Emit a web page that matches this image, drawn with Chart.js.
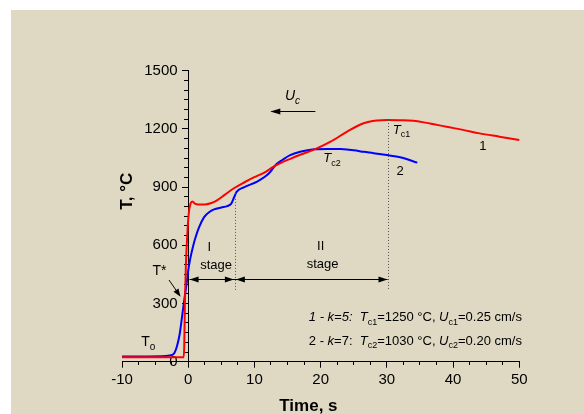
<!DOCTYPE html>
<html>
<head>
<meta charset="utf-8">
<script src="https://cdn.jsdelivr.net/npm/chart.js@4"></script>
<style>
  body { margin: 0; background: #fff; }
  canvas { display: block; }
</style>
</head>
<body>
<canvas id="chart" width="584" height="414"></canvas>
<script>
const FONT = '"Liberation Sans", Arial, sans-serif';

// curve 1 (k=5), red
const timeRed = [-10, -0.7, -0.6, -0.5, -0.35, -0.15, 0.1, 0.35, 0.65, 1.0, 1.5, 2.5, 3.5, 4.4, 5.5, 6.9, 8.5, 9.9, 11.5, 12.9, 14, 15.5, 17, 19, 21.5, 24, 26.5, 28.5, 30, 32, 34, 36.5, 39, 41.5, 44, 47, 50];
const tempRed = [23, 23, 80, 300, 500, 650, 770, 815, 826, 815, 810, 810, 818, 833, 860, 894, 925, 950, 975, 1005, 1025, 1047, 1068, 1093, 1134, 1186, 1229, 1243, 1246, 1245, 1242, 1228, 1211, 1195, 1177, 1160, 1143];

// curve 2 (k=7), blue
const timeBlue = [-10, -4, -2.8, -2.2, -1.7, -1.3, -0.9, -0.55, -0.25, 0, 0.3, 0.7, 1.1, 1.6, 2.4, 3.2, 3.9, 5, 5.9, 6.5, 6.9, 7.3, 8.4, 10.4, 12.2, 13.2, 14, 15.4, 16.9, 19, 21, 23, 25, 26.5, 28, 30, 32, 34.6];
const tempBlue = [27, 28, 32, 40, 80, 140, 240, 330, 400, 470, 530, 590, 640, 690, 745, 772, 785, 795, 802, 815, 845, 875, 899, 928, 971, 1014, 1035, 1065, 1082, 1095, 1097, 1096, 1090, 1082, 1075, 1065, 1054, 1026];

const stageEnds = [7.05, 30.1];   // dotted stage borders, s
const stageArrowT = 425;          // level of the stage arrows, °C

const legendLines = [
  [['1 - k=5:  ', 'i'], ['T', 'i'], ['c1', 's'], ['=1250 °C, ', 'n'], ['U', 'i'], ['c1', 's'], ['=0.25 cm/s', 'n']],
  [['2 - ', 'n'], ['k', 'i'], ['=7:  ', 'n'], ['T', 'i'], ['c2', 's'], ['=1030 °C, ', 'n'], ['U', 'i'], ['c2', 's'], ['=0.20 cm/s', 'n']]
];

function richText(ctx, parts, x, y, size, align) {
  const fontFor = st => (st === 'i' || st === 'si' ? 'italic ' : '') + (st[0] === 's' ? Math.round(size * 0.72) : size) + 'px ' + FONT;
  let w = 0;
  parts.forEach(([t, st]) => { ctx.font = fontFor(st); w += ctx.measureText(t).width; });
  let cx = align === 'right' ? x - w : align === 'center' ? x - w / 2 : x;
  ctx.textAlign = 'left';
  ctx.textBaseline = 'middle';
  parts.forEach(([t, st]) => {
    ctx.font = fontFor(st);
    ctx.fillText(t, cx, st[0] === 's' ? y + size * 0.38 : y);
    cx += ctx.measureText(t).width;
  });
}

function arrowHead(ctx, x, y, dir, len, half) {
  // dir: angle in radians the tip points to
  ctx.save();
  ctx.translate(x, y);
  ctx.rotate(dir);
  ctx.beginPath();
  ctx.moveTo(0, 0);
  ctx.lineTo(-len, -half);
  ctx.lineTo(-len, half);
  ctx.closePath();
  ctx.fill();
  ctx.restore();
}

const overlay = {
  id: 'overlay',
  beforeDraw(chart) {
    const ctx = chart.ctx;
    ctx.save();
    ctx.fillStyle = '#dfd9c4';
    ctx.fillRect(11, 10, chart.width - 11, chart.height - 10);
    ctx.restore();
  },
  afterDraw(chart) {
    const {ctx, chartArea} = chart;
    const sx = chart.scales.x, sy = chart.scales.y;
    const px = v => sx.getPixelForValue(v);
    const py = v => sy.getPixelForValue(v);
    ctx.save();
    ctx.fillStyle = '#000';
    ctx.strokeStyle = '#000';

    // dotted stage borders
    ctx.save();
    ctx.strokeStyle = '#555';
    ctx.lineWidth = 1;
    ctx.setLineDash([1, 2]);
    ctx.beginPath();
    ctx.moveTo(Math.round(px(stageEnds[0])) + 0.5, py(870));
    ctx.lineTo(Math.round(px(stageEnds[0])) + 0.5, py(370));
    ctx.moveTo(Math.round(px(stageEnds[1])) + 0.5, py(1246));
    ctx.lineTo(Math.round(px(stageEnds[1])) + 0.5, py(370));
    ctx.stroke();
    ctx.restore();

    // stage arrows
    const ay = Math.round(py(stageArrowT)) + 0.5;
    ctx.lineWidth = 1;
    ctx.beginPath();
    ctx.moveTo(px(0.2), ay);
    ctx.lineTo(px(stageEnds[1]), ay);
    ctx.stroke();
    arrowHead(ctx, px(0.2), ay, Math.PI, 9, 3);
    arrowHead(ctx, px(stageEnds[0]) - 1, ay, 0, 9, 3);
    arrowHead(ctx, px(stageEnds[0]) + 1, ay, Math.PI, 9, 3);
    arrowHead(ctx, px(stageEnds[1]), ay, 0, 9, 3);

    // Uc arrow
    const uy = Math.round(py(1294)) + 0.5;
    ctx.beginPath();
    ctx.moveTo(px(19.2), uy);
    ctx.lineTo(px(12.6), uy);
    ctx.stroke();
    arrowHead(ctx, px(12.4), uy, Math.PI, 10, 3);

    // T* arrow
    const x1 = px(-2.9), y1 = py(421), x2 = px(-1.16), y2 = py(335);
    ctx.beginPath();
    ctx.moveTo(x1, y1);
    ctx.lineTo(x2 - 2, y2 - 3);
    ctx.stroke();
    arrowHead(ctx, x2, y2, Math.atan2(y2 - y1, x2 - x1), 8, 3);

    // labels
    richText(ctx, [['I', 'n']], px(3.2), py(591), 13, 'center');
    richText(ctx, [['stage', 'n']], px(4.2), py(498), 13, 'center');
    richText(ctx, [['II', 'n']], px(20), py(593), 13, 'center');
    richText(ctx, [['stage', 'n']], px(20.3), py(502), 13, 'center');
    richText(ctx, [['T*', 'n']], px(-4.33), py(468), 14, 'center');
    richText(ctx, [['T', 'n'], ['o', 's']], px(-7.1), py(102), 14, 'left');
    richText(ctx, [['U', 'i'], ['c', 'si']], px(14.6), py(1370), 14, 'left');
    richText(ctx, [['T', 'i'], ['c1', 's']], px(30.9), py(1194), 13, 'left');
    richText(ctx, [['T', 'i'], ['c2', 's']], px(20.4), py(1048), 13, 'left');
    richText(ctx, [['1', 'n']], px(44.5), py(1108), 13, 'center');
    richText(ctx, [['2', 'n']], px(32), py(979), 13, 'center');
    richText(ctx, legendLines[0], px(50.4), py(230), 13, 'right');
    richText(ctx, legendLines[1], px(50.4), py(107), 13, 'right');

    // axis titles
    ctx.font = 'bold 17px ' + FONT;
    ctx.textAlign = 'center';
    ctx.textBaseline = 'middle';
    ctx.fillText('Time, s', px(18.15), chartArea.bottom + 44.5);
    ctx.save();
    ctx.translate(px(-9.2), py(879));
    ctx.rotate(-Math.PI / 2);
    ctx.fillText('T, °C', 0, 0);
    ctx.restore();
    ctx.restore();
  }
};

const toPoints = (xs, ys) => xs.map((t, i) => ({x: t, y: ys[i]}));

new Chart(document.getElementById('chart'), {
  type: 'scatter',
  data: {
    datasets: [
      {
        label: '1',
        data: toPoints(timeRed, tempRed),
        showLine: true,
        borderColor: '#ff0000',
        borderWidth: 2,
        pointRadius: 0,
        cubicInterpolationMode: 'monotone',
        clip: false
      },
      {
        label: '2',
        data: toPoints(timeBlue, tempBlue),
        showLine: true,
        borderColor: '#0000ff',
        borderWidth: 2,
        pointRadius: 0,
        cubicInterpolationMode: 'monotone',
        clip: false
      }
    ]
  },
  options: {
    responsive: false,
    animation: false,
    layout: { padding: { left: 122, right: 64.7, top: 70.7, bottom: 0 } },
    plugins: { legend: { display: false }, tooltip: { enabled: false } },
    scales: {
      x: {
        type: 'linear', axis: 'x', position: 'bottom', min: -10, max: 50,
        afterFit: s => { s.height = 52.3; },
        ticks: { stepSize: 10, padding: 3, color: '#000', font: { size: 15, family: FONT } },
        grid: { drawOnChartArea: false, tickLength: 6, color: '#000' },
        border: { color: '#000', width: 1 }
      },
      xMinor: {
        type: 'linear', axis: 'x', position: { y: 0 }, min: -10, max: 50,
        ticks: { stepSize: 2.5, autoSkip: false, callback: () => '' },
        grid: { drawOnChartArea: false, tickLength: 3, color: '#000' },
        border: { color: '#000', width: 1 }
      },
      y: {
        type: 'linear', axis: 'y', position: { x: 0 }, min: 0, max: 1500,
        ticks: { stepSize: 300, autoSkip: false, callback: () => '' },
        grid: { drawOnChartArea: false, tickLength: 6, color: '#000' },
        border: { color: '#000', width: 1 }
      },
      yMinor: {
        type: 'linear', axis: 'y', position: { x: 0 }, min: 0, max: 1500,
        ticks: { stepSize: 50, autoSkip: false, callback: () => '' },
        grid: { drawOnChartArea: false, tickLength: 4, color: '#000' },
        border: { color: '#000', width: 1 }
      },
      yLabels: {
        type: 'linear', axis: 'y', position: { x: -1.6 }, min: 0, max: 1500,
        ticks: { stepSize: 300, color: '#000', font: { size: 15, family: FONT }, callback: v => String(v) },
        grid: { display: false },
        border: { display: false }
      }
    }
  },
  plugins: [overlay]
});
</script>
</body>
</html>
